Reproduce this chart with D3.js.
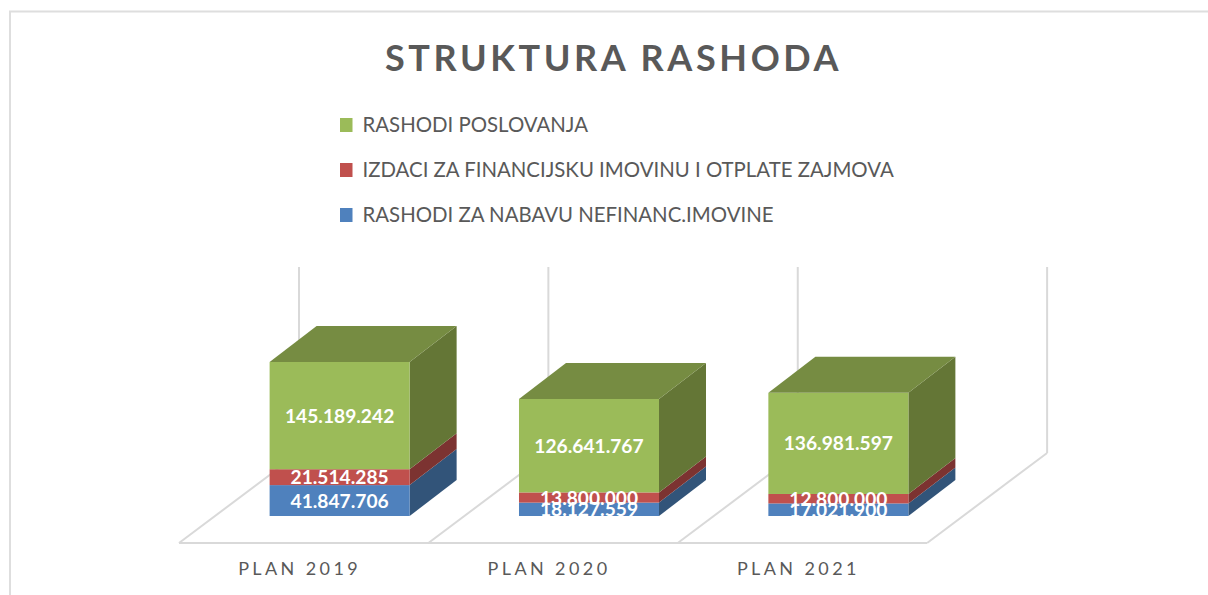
<!DOCTYPE html>
<html>
<head>
<meta charset="utf-8">
<script src="https://cdn.jsdelivr.net/npm/d3@7"></script>
<style>
html,body{margin:0;padding:0;background:#fff;overflow:hidden}
text{font-family:Lato,"Open Sans",sans-serif}
</style>
</head>
<body>
<svg id="chart" width="1208" height="595"></svg>
<script>
const categories = ["PLAN 2019", "PLAN 2020", "PLAN 2021"];
const seriesNames = ["RASHODI ZA NABAVU NEFINANC.IMOVINE", "IZDACI ZA FINANCIJSKU IMOVINU I OTPLATE ZAJMOVA", "RASHODI POSLOVANJA"];
const nabava = [41847706, 18127559, 17021900];
const izdaci = [21514285, 13800000, 12800000];
const poslovanje = [145189242, 126641767, 136981597];
const frontColors = ["#4F81BD", "#C0504D", "#9BBB59"];
const sideColors = ["#325479", "#7C3331", "#647636"];
const topColor = "#768C42";
const titleText = "STRUKTURA RASHODA";

const values = [nabava, izdaci, poslovanje];
const svg = d3.select("#chart");
const grid = "#d9d9d9", textColor = "#595959";

// frame
svg.append("path").attr("d", "M10,595V11.5H1208").attr("fill", "none").attr("stroke", "#dedede").attr("stroke-width", 2);

// title
svg.append("text").attr("x", 613.5).attr("y", 71).attr("text-anchor", "middle")
  .attr("font-size", 36).attr("font-weight", 700).attr("letter-spacing", 3.6)
  .attr("fill", textColor).text(titleText);

// legend (reverse of stacking order)
const legendY = d3.scalePoint().domain([2, 1, 0]).range([125, 215]);
const legend = svg.append("g").selectAll("g").data([2, 1, 0]).join("g")
  .attr("transform", d => `translate(0,${legendY(d)})`);
legend.append("rect").attr("x", 340).attr("y", -7).attr("width", 12.5).attr("height", 14).attr("fill", d => frontColors[d]);
legend.append("text").attr("x", 362.5).attr("y", 7).attr("font-size", 20.4).attr("fill", textColor).text(d => seriesNames[d]);

// scales
const floorLeft = 179, floorRight = 927, floorFront = 543, floorBack = 453, wallTop = 267, floorDx = 120;
const barBase = 516, depthX = 47, depthY = 36;
const x = d3.scaleBand().domain(categories).range([floorLeft, floorRight]).paddingInner(0.4385).paddingOuter(0.219);
const y = d3.scaleLinear().domain([0, 250e6]).range([barBase, barBase - 184.6]);
const barShift = floorDx * (floorFront - barBase) / (floorFront - floorBack);

// floor and walls
const step = x.step();
const edges = d3.range(categories.length + 1).map(i => floorLeft + i * step);
const g3 = svg.append("g").attr("fill", "none").attr("stroke", grid).attr("stroke-width", 2);
g3.append("line").attr("x1", floorLeft).attr("x2", floorRight).attr("y1", floorFront).attr("y2", floorFront);
g3.selectAll(".diag").data(edges).join("line").attr("class", "diag")
  .attr("x1", d => d).attr("y1", floorFront).attr("x2", d => d + floorDx).attr("y2", floorBack);
g3.selectAll(".wall").data(edges).join("line").attr("class", "wall")
  .attr("x1", d => d + floorDx).attr("y1", floorBack).attr("x2", d => d + floorDx).attr("y2", wallTop);

// stacked 3D bars
const fmt = d3.formatLocale({decimal: ",", thousands: ".", grouping: [3], currency: ["", ""]}).format(",d");
const stack = d3.stack().keys([0, 1, 2]).value((row, k) => row[k]);
const rows = categories.map((c, i) => values.map(v => v[i]));
const layers = stack(rows);

categories.forEach((cat, i) => {
  const g = svg.append("g");
  const x0 = x(cat) + barShift, x1 = x0 + x.bandwidth();
  layers.forEach((layer, k) => {
    const yb = y(layer[i][0]), yt = y(layer[i][1]);
    g.append("path").attr("fill", sideColors[k])
      .attr("d", d3.line()([[x1, yb], [x1 + depthX, yb - depthY], [x1 + depthX, yt - depthY], [x1, yt]]));
    g.append("rect").attr("x", x0).attr("y", yt).attr("width", x1 - x0).attr("height", yb - yt).attr("fill", frontColors[k]);
    if (k === 2) {
      g.append("path").attr("fill", topColor)
        .attr("d", d3.line()([[x0, yt], [x0 + depthX, yt - depthY], [x1 + depthX, yt - depthY], [x1, yt]]));
    }
  });
});

// data labels
categories.forEach((cat, i) => {
  const cx = x(cat) + barShift + x.bandwidth() / 2;
  layers.forEach((layer) => {
    svg.append("text").attr("x", cx).attr("y", (y(layer[i][0]) + y(layer[i][1])) / 2 + 7)
      .attr("text-anchor", "middle").attr("font-size", 19.2).attr("font-weight", 700)
      .attr("fill", "#fff").text(fmt(layer[i][1] - layer[i][0]));
  });
});

// category axis
const axis = svg.append("g").attr("transform", "translate(-4,562.5)")
  .call(d3.axisBottom(x).tickSize(0).tickPadding(0));
axis.select(".domain").remove();
axis.selectAll("text").attr("font-size", 18).attr("letter-spacing", 3.4)
  .attr("fill", textColor).attr("font-family", "Lato, 'Open Sans', sans-serif");
</script>
</body>
</html>
